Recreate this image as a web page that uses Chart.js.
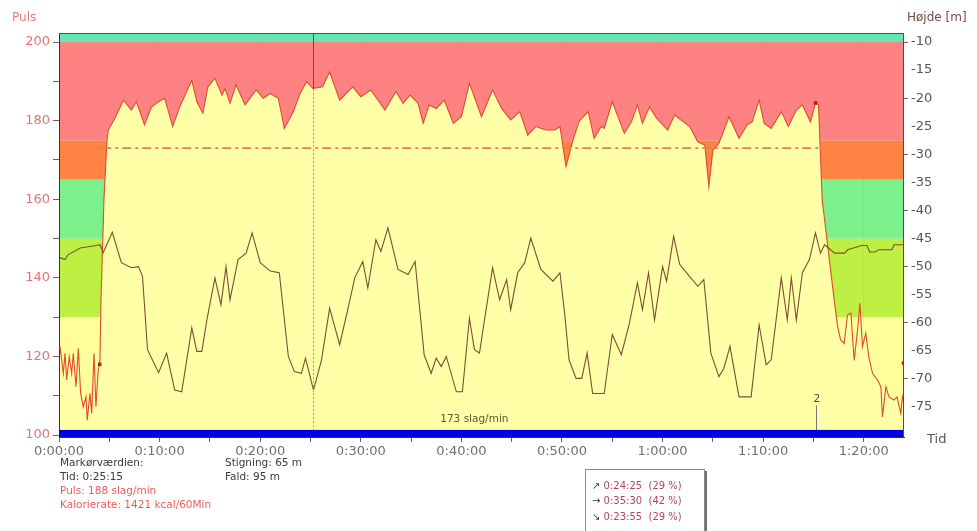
<!DOCTYPE html>
<html><head><meta charset="utf-8">
<script src="https://cdn.jsdelivr.net/npm/chart.js@4/dist/chart.umd.min.js"></script>
<style>
html,body{margin:0;padding:0;background:#fff;}
#wrap{position:relative;width:977px;height:531px;overflow:hidden;font-family:"DejaVu Sans",sans-serif;}
#c{position:absolute;left:0;top:0;}
.t{position:absolute;white-space:nowrap;font-size:10.5px;line-height:1;color:#3a3a3a;}
.red{color:#f05a5a;}
#box{position:absolute;left:585px;top:469px;width:118px;height:80px;border:1px solid #8a8a8a;box-shadow:2px 2px 0 #707070;background:#fff;font-size:10px;}
#box div{position:absolute;left:6px;white-space:nowrap;color:#b0485a;}
#box span{color:#333;}
</style></head><body>
<div id="wrap">
<canvas id="c" width="977" height="531"></canvas>
<div class="t" style="left:12px;top:11px;font-size:12px;color:#f07878">Puls</div>
<div class="t" style="left:907px;top:11px;font-size:12px;color:#7a4a4a">Højde [m]</div>
<div class="t" style="left:927px;top:432px;font-size:13px;color:#555">Tid</div>
<div class="t" style="left:60px;top:457px">Markørværdien:</div>
<div class="t" style="left:60px;top:471px">Tid: 0:25:15</div>
<div class="t red" style="left:60px;top:485px">Puls: 188 slag/min</div>
<div class="t red" style="left:60px;top:499px">Kalorierate: 1421 kcal/60Min</div>
<div class="t" style="left:225px;top:457px">Stigning: 65 m</div>
<div class="t" style="left:225px;top:471px">Fald: 95 m</div>
<div id="box">
<div style="top:10px"><span>↗</span> 0:24:25&nbsp;&nbsp;(29 %)</div>
<div style="top:25px"><span>→</span> 0:35:30&nbsp;&nbsp;(42 %)</div>
<div style="top:41px"><span>↘</span> 0:23:55&nbsp;&nbsp;(29 %)</div>
</div>
<div class="t" id="avgLabel" style="top:413px;color:#5a5a2a">173 slag/min</div>
<div class="t" id="lapLabel" style="top:393px;color:#444">2</div>
</div>
<script>
// ---- data (time in minutes) ----
const hrTime = [0.1,0.27,0.43,0.6,0.76,1.02,1.26,1.42,1.69,1.92,2.15,2.41,2.68,2.81,3.08,3.25,3.48,3.67,3.9,4.07,
 4.17,4.47,4.77,4.9,5.56,6.4,7.2,7.7,8.5,9.2,9.9,10.5,11.3,12.0,13.2,13.7,14.3,14.8,15.5,16.2,16.5,17.0,17.6,18.5,19.6,20.3,21.0,21.8,22.4,23.3,23.9,24.6,25.25,26.2,26.9,27.9,29.2,30.0,31.0,32.4,33.5,34.2,34.9,35.7,36.2,36.8,37.5,38.3,39.2,40.0,40.8,42.0,43.1,44.0,44.9,45.8,46.6,47.4,48.4,49.3,49.8,50.4,51.1,51.7,52.6,53.2,53.9,54.2,55.0,56.2,56.9,57.5,58.0,58.7,59.4,60.5,61.2,61.8,62.7,63.5,64.2,64.6,65.0,65.6,66.6,67.6,68.4,68.9,69.6,70.1,70.8,71.8,72.5,73.3,73.9,74.7,75.2,75.5,
 75.87,77.06,77.4,77.7,78.05,78.38,78.72,79.05,79.38,79.62,79.87,80.2,80.5,80.87,81.36,81.7,81.86,82.2,82.5,83.0,83.3,83.68,83.84,84.0];
const hrValues = [122.5,119,115.7,120.8,114,119.9,115.7,120.8,112.3,122,110.6,107.2,109.7,103.8,110.6,105.5,120.8,107.2,116.5,119,
 134,160,175,177.6,180.6,185.2,182.7,184.8,178.9,183.5,184.8,185.7,178.5,183.5,190.3,184.8,181.9,188.6,190.8,186.5,188.2,184.4,189.1,184.0,187.8,185.7,186.9,185.7,178.0,182.3,186.5,189.9,188.2,188.6,192.4,185.2,188.6,186.1,187.8,182.7,187.4,184.4,186.5,184.4,179.3,184.0,183.1,185.2,179.3,181.0,189.5,181.0,187.8,183.1,180.2,182.3,176.3,178.5,177.6,177.6,178.5,168.3,175.1,179.8,182.3,175.5,178.5,178,184.8,176.8,179.7,184.0,179.3,183.5,180.6,177.6,181.4,180.2,178.5,174.6,173.8,163.2,172.5,174.2,181.0,175.5,178.9,179.7,185.2,179.3,178.0,182.3,178.5,182.7,184.0,179.7,184.4,184,
 159.8,134.4,127.6,124.2,123.3,130.5,131,119,126.7,133.5,122.5,125.9,119.9,115.7,114,112.3,104.6,112.3,109.7,108.9,109.7,105.5,109.7,108];

const elevTime = [0.1,0.6,0.9,2.1,3.7,4.07,4.4,5.3,6.2,7.2,7.9,8.3,8.8,9.9,10.7,11.5,12.2,13.2,13.7,14.2,14.7,15.5,16.1,16.6,17.0,17.8,18.6,19.2,20.0,21.0,21.9,22.8,23.4,24.1,24.5,25.3,26.1,26.9,27.9,28.7,29.4,30.2,30.7,31.5,32.0,32.7,33.7,34.7,35.4,36.3,37.0,37.5,38.0,38.5,39.5,40.1,40.8,41.3,41.8,42.3,43.1,43.8,44.5,44.9,45.6,46.3,46.9,47.9,49.1,49.8,50.3,50.7,51.4,51.97,52.5,53.05,54.2,55.0,55.9,56.7,57.5,58.0,58.6,59.2,60.0,60.4,61.1,61.7,62.8,63.5,64.1,64.8,65.6,66.1,66.7,67.6,68.8,69.6,70.3,70.8,71.8,72.4,72.8,73.3,73.9,74.6,75.2,75.7,76.1,76.7,77.1,78.1,78.4,79.8,80.3,80.6,81.1,81.5,82.8,83.0,84.0];
const elevValues = [-48.4,-48.75,-47.9,-46.7,-46.25,-46.1,-47.5,-43.9,-49.3,-50.2,-50.0,-51.7,-64.8,-68.9,-65.4,-72.0,-72.3,-60.9,-65.1,-65.1,-59.5,-52.0,-56.8,-50.0,-55.9,-48.75,-47.6,-44.0,-49.3,-50.8,-51.1,-66.0,-68.7,-69.0,-66.3,-72.0,-66.6,-57.4,-63.9,-57.7,-52.0,-49.1,-53.8,-45.2,-47.3,-43.1,-50.5,-51.4,-49.1,-65.7,-69.0,-66.3,-67.8,-66.0,-72.3,-72.3,-59.2,-64.8,-65.4,-59.5,-50.2,-55.9,-52.3,-57.7,-51.1,-49.3,-44.9,-50.5,-52.6,-51.1,-58.9,-66.6,-69.9,-69.9,-65.4,-72.6,-72.6,-62.1,-65.7,-60.1,-52.9,-57.7,-51.1,-59.5,-50.0,-52.6,-44.6,-49.6,-52.0,-53.5,-52.3,-65.4,-69.6,-68.1,-64.2,-73.2,-73.2,-60.4,-67.5,-66.6,-52.0,-59.5,-52.0,-59.5,-51.1,-48.75,-44.0,-47.6,-46.1,-47.0,-47.6,-47.6,-47.0,-46.25,-46.25,-47.4,-47.4,-47.0,-47.0,-46.1,-46.1];

const avgHR = 173, avgStart = 4.3, avgEnd = 75.5;
const markerTime = 25.25, markerHR = 188;
const lapTime = 75.3;
const markTimes = [4.05, 75.2, 83.95];
const markHR = [118, 184.5, 118.3];

const xTicks = [0,5,10,15,20,25,30,35,40,45,50,55,60,65,70,75,80];
const yTicks = [100,110,120,130,140,150,160,170,180,190,200];
const y2Ticks = [-75,-70,-65,-60,-55,-50,-45,-40,-35,-30,-25,-20,-15,-10];

const zoneEdges = [99.5,130,150,165,175,200,202.3];
const zoneColors = ['#ffff9c','#bdf043','#7cf08a','#ff8444','#ff8282','#64e6b2'];
const baseBand = [99.5,101.3];

function fmtTime(m){const h=Math.floor(m/60), mm=m%60; return h+':'+String(mm).padStart(2,'0')+':00';}
const pts=(xs,ys)=>xs.map((x,i)=>({x:x,y:ys[i]}));

const bgPlugin = {
  id:'zones',
  beforeDraw(chart){
    const {ctx,chartArea:a,scales:{y}}=chart;
    ctx.save();
    for(let i=0;i<zoneColors.length;i++){
      const top=y.getPixelForValue(zoneEdges[i+1]), bot=y.getPixelForValue(zoneEdges[i]);
      ctx.fillStyle=zoneColors[i];
      ctx.fillRect(a.left,top,a.right-a.left,bot-top);
    }
    ctx.restore();
  },
  afterDatasetsDraw(chart){
    const {ctx,chartArea:a,scales:{x,y}}=chart;
    ctx.save();
    const mx=Math.round(x.getPixelForValue(markerTime))+0.5, my=y.getPixelForValue(markerHR);
    ctx.strokeStyle='#555';ctx.lineWidth=1;
    ctx.beginPath();ctx.moveTo(mx,a.top);ctx.lineTo(mx,my);ctx.stroke();
    ctx.strokeStyle='#58c858';ctx.setLineDash([2,2]);
    ctx.beginPath();ctx.moveTo(mx,my);ctx.lineTo(mx,a.bottom);ctx.stroke();
    ctx.setLineDash([]);
    const lx=Math.round(x.getPixelForValue(lapTime))+0.5;
    ctx.strokeStyle='#777';
    ctx.beginPath();ctx.moveTo(lx,y.getPixelForValue(107.5));ctx.lineTo(lx,a.bottom);ctx.stroke();
    const bt=y.getPixelForValue(baseBand[1]), bb=y.getPixelForValue(baseBand[0]);
    ctx.fillStyle='#0000e4';
    ctx.fillRect(a.left,bt,a.right-a.left,bb-bt);
    ctx.strokeStyle='#2f5e48';
    ctx.beginPath();ctx.moveTo(a.left,a.top+0.5);ctx.lineTo(a.right-0.5,a.top+0.5);ctx.lineTo(a.right-0.5,a.bottom);ctx.stroke();
    ctx.restore();
  },
  afterRender(chart){
    const {x}=chart.scales;
    document.getElementById('avgLabel').style.left=(x.getPixelForValue(37.9))+'px';
    document.getElementById('lapLabel').style.left=(x.getPixelForValue(lapTime)-3)+'px';
  }
};

const tickFont={family:'"DejaVu Sans", sans-serif',size:13};

new Chart(document.getElementById('c'),{
  type:'line',
  data:{datasets:[
    {label:'avg',data:[{x:avgStart,y:avgHR},{x:avgEnd,y:avgHR}],borderColor:'#d8864a',borderWidth:1.6,borderDash:[9,4,3,4],pointRadius:0,fill:false,order:1,yAxisID:'y'},
    {label:'marks',data:pts(markTimes,markHR),showLine:false,pointStyle:'rect',pointRadius:2.5,pointBackgroundColor:'#c01818',pointBorderWidth:0,order:0,yAxisID:'y'},
    {label:'Højde',data:pts(elevTime,elevValues),borderColor:'#7d4e32',borderWidth:1.1,pointRadius:0,fill:false,tension:0,order:2,yAxisID:'y2'},
    {label:'Puls',data:pts(hrTime,hrValues),borderColor:'#e04a30',borderWidth:1.1,pointRadius:0,fill:'start',backgroundColor:'#ffffa8',tension:0,order:3,yAxisID:'y'}
  ]},
  options:{
    responsive:false,animation:false,
    layout:{padding:{top:33,left:0,right:0,bottom:0}},
    plugins:{legend:{display:false},tooltip:{enabled:false}},
    scales:{
      x:{type:'linear',min:0,max:84,position:'bottom',
        afterBuildTicks:s=>{s.ticks=xTicks.map(v=>({value:v}));},
        afterFit:s=>{s.height=94;},
        ticks:{autoSkip:false,maxRotation:0,color:'#6e6e6e',font:tickFont,padding:2,
          callback:v=>(v%10===0?fmtTime(v):'')},
        grid:{drawOnChartArea:true,tickLength:5,tickColor:'#666',
          color:c=>(c.tick&&c.tick.value%10===0&&c.tick.value>0?'rgba(150,60,60,0.05)':'rgba(0,0,0,0)')},
        border:{display:true,color:'#333'}},
      y:{type:'linear',position:'left',min:99.5,max:202.3,
        afterBuildTicks:s=>{s.ticks=yTicks.map(v=>({value:v}));},
        afterFit:s=>{s.width=59;},
        ticks:{autoSkip:false,color:'#e87272',font:tickFont,padding:3,callback:v=>(v%20===0?String(v):'')},
        grid:{drawOnChartArea:false,tickLength:6,tickColor:'#666'},
        border:{display:true,color:'#333'}},
      y2:{type:'linear',position:'right',min:-80.35,max:-8.39,
        afterBuildTicks:s=>{s.ticks=y2Ticks.map(v=>({value:v}));},
        afterFit:s=>{s.width=73;},
        ticks:{autoSkip:false,color:'#555',font:tickFont,padding:3,callback:v=>String(v)},
        grid:{drawOnChartArea:false,tickLength:4,tickColor:c=>(c.tick&&c.tick.value%10===0?'#666':'rgba(0,0,0,0)')},
        border:{display:false}}
    }
  },
  plugins:[bgPlugin]
});
</script>
</body></html>
